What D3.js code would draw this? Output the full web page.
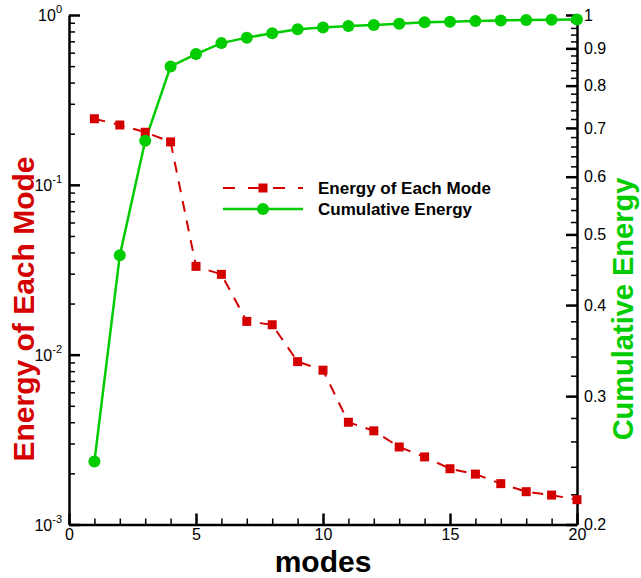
<!DOCTYPE html>
<html>
<head>
<meta charset="utf-8">
<script src="https://cdn.jsdelivr.net/npm/d3@7"></script>
<style>
  body { margin: 0; background: #fff; }
  svg { display: block; font-family: 'Liberation Sans', Arial, sans-serif; }
  .axis path, .axis line { stroke: #000; }
</style>
</head>
<body>
<svg id="chart"></svg>
<script>
const modes = [1, 2, 3, 4, 5, 6, 7, 8, 9, 10, 11, 12, 13, 14, 15, 16, 17, 18, 19, 20];
const energy = [0.245, 0.225, 0.204, 0.179, 0.0331, 0.0297, 0.0157, 0.0150, 0.0091, 0.0081,
  0.0040, 0.00356, 0.00286, 0.00250, 0.00213, 0.00198, 0.00174, 0.00156, 0.00149, 0.00140];
const cumulative = [0.244, 0.468, 0.672, 0.850, 0.884, 0.915, 0.931, 0.944, 0.956, 0.961,
  0.966, 0.969, 0.973, 0.977, 0.979, 0.981, 0.983, 0.984, 0.985, 0.986];

const xTicks = [0, 5, 10, 15, 20];
const leftTicks = [1e-3, 1e-2, 1e-1, 1];
const leftExponents = ['-3', '-2', '-1', '0'];
const rightTicks = [0.2, 0.3, 0.4, 0.5, 0.6, 0.7, 0.8, 0.9, 1];
const legendNames = ['Energy of Each Mode', 'Cumulative Energy'];

const red = '#d40000';
const green = '#00cc00';

const W = 641, H = 578;
const margin = {top: 15, right: 64, bottom: 53.5, left: 69};
const width = W - margin.left - margin.right;
const height = H - margin.top - margin.bottom;

const svg = d3.select('#chart').attr('width', W).attr('height', H);
const g = svg.append('g').attr('transform', `translate(${margin.left},${margin.top})`);

const x = d3.scaleLinear().domain([0, 20]).range([0, width]);
const yL = d3.scaleLog().domain([1e-3, 1]).range([height, 0]);
const yR = d3.scaleLog().domain([0.2, 1]).range([height, 0]);

// minor ticks
const xMinor = d3.range(0, 21).filter((d) => d % 5 !== 0);
const leftMinor = [];
[1e-3, 1e-2, 1e-1].forEach((p) => {
  for (let k = 2; k <= 9; k++) leftMinor.push(p * k);
});
const rightMinor = d3.range(10, 50).map((d) => d / 50).filter((d) => Math.round(d * 100) % 10 !== 0);

function minorAxis(axis, vals) {
  return axis.tickValues(vals).tickSize(-6).tickFormat('');
}

g.append('g').attr('class', 'axis minor').attr('transform', `translate(0,${height})`)
  .call(minorAxis(d3.axisBottom(x), xMinor));
g.append('g').attr('class', 'axis minor')
  .call(minorAxis(d3.axisLeft(yL), leftMinor));
g.append('g').attr('class', 'axis minor').attr('transform', `translate(${width},0)`)
  .call(minorAxis(d3.axisRight(yR), rightMinor));
g.selectAll('.minor .domain').remove();
g.selectAll('.minor line').attr('stroke-width', 1.5);

// major axes
const xAxis = g.append('g').attr('class', 'axis major').attr('transform', `translate(0,${height})`)
  .call(d3.axisBottom(x).tickValues(xTicks).tickSizeInner(-11).tickSizeOuter(0).tickPadding(4));
xAxis.selectAll('text').attr('font-size', 16).attr('fill', '#000');

g.append('g').attr('class', 'axis major')
  .call(d3.axisLeft(yL).tickValues(leftTicks).tickSizeInner(-11).tickSizeOuter(0).tickFormat(''));

const rightAxis = g.append('g').attr('class', 'axis major').attr('transform', `translate(${width},0)`)
  .call(d3.axisRight(yR).tickValues(rightTicks).tickSizeInner(-11).tickSizeOuter(0)
    .tickPadding(7).tickFormat(d3.format('')));
rightAxis.selectAll('text').attr('font-size', 16).attr('fill', '#000');

g.selectAll('.major .domain').attr('stroke-width', 2.5);
g.selectAll('.major line').attr('stroke-width', 2.5);

// left labels with superscripts
const leftLabels = g.append('g').selectAll('text')
  .data(leftTicks)
  .enter()
  .append('text')
  .attr('x', -7)
  .attr('y', (d) => yL(d) + 6)
  .attr('text-anchor', 'end')
  .attr('font-size', 16);
leftLabels.append('tspan').text('10');
leftLabels.append('tspan')
  .attr('dy', -8)
  .attr('font-size', 11)
  .text((d, i) => leftExponents[i]);

// energy line (red dashed, squares)
const energyData = modes.map((m, i) => ({m: m, v: energy[i]}));
const cumData = modes.map((m, i) => ({m: m, v: cumulative[i]}));

g.append('path')
  .datum(energyData)
  .attr('fill', 'none')
  .attr('stroke', red)
  .attr('stroke-width', 2)
  .attr('stroke-dasharray', '11,9')
  .attr('d', d3.line().x((d) => x(d.m)).y((d) => yL(d.v)));

g.append('path')
  .datum(cumData)
  .attr('fill', 'none')
  .attr('stroke', green)
  .attr('stroke-width', 2.5)
  .attr('d', d3.line().x((d) => x(d.m)).y((d) => yR(d.v)));

g.selectAll('.sq')
  .data(energyData)
  .enter()
  .append('rect')
  .attr('class', 'sq')
  .attr('x', (d) => x(d.m) - 4.5)
  .attr('y', (d) => yL(d.v) - 4.5)
  .attr('width', 9)
  .attr('height', 9)
  .attr('fill', red);

g.selectAll('.dot')
  .data(cumData)
  .enter()
  .append('circle')
  .attr('class', 'dot')
  .attr('cx', (d) => x(d.m))
  .attr('cy', (d) => yR(d.v))
  .attr('r', 6)
  .attr('fill', green);

// legend
const legend = svg.append('g').attr('transform', 'translate(223,188)');
legend.append('line')
  .attr('x1', 0).attr('x2', 80).attr('y1', 0).attr('y2', 0)
  .attr('stroke', red).attr('stroke-width', 2).attr('stroke-dasharray', '12,13');
legend.append('rect')
  .attr('x', 35.5).attr('y', -4.5).attr('width', 9).attr('height', 9).attr('fill', red);
legend.append('line')
  .attr('x1', 0).attr('x2', 80).attr('y1', 21).attr('y2', 21)
  .attr('stroke', green).attr('stroke-width', 2.5);
legend.append('circle')
  .attr('cx', 40).attr('cy', 21).attr('r', 6).attr('fill', green);
legend.selectAll('text')
  .data(legendNames)
  .enter()
  .append('text')
  .attr('x', 95)
  .attr('y', (d, i) => i * 21 + 6)
  .attr('font-size', 17)
  .attr('font-weight', 'bold')
  .text((d) => d);

// axis titles
svg.append('text')
  .attr('x', margin.left + width / 2)
  .attr('y', 571.5)
  .attr('text-anchor', 'middle')
  .attr('font-size', 30)
  .attr('font-weight', 'bold')
  .text('modes');

svg.append('text')
  .attr('transform', 'translate(34,309) rotate(-90)')
  .attr('text-anchor', 'middle')
  .attr('font-size', 30)
  .attr('font-weight', 'bold')
  .attr('fill', red)
  .text('Energy of Each Mode');

svg.append('text')
  .attr('transform', 'translate(633,309) rotate(-90)')
  .attr('text-anchor', 'middle')
  .attr('font-size', 29)
  .attr('font-weight', 'bold')
  .attr('fill', green)
  .text('Cumulative Energy');
</script>
</body>
</html>
